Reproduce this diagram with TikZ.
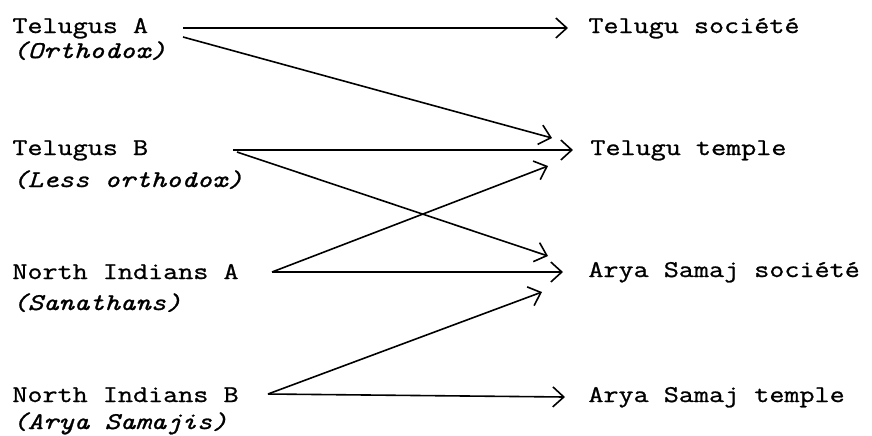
\documentclass[tikz,border=0pt]{standalone}
\usepackage{fontspec}
\setmainfont{Latin Modern Mono}[FakeStretch=1.22,FakeBold=1]
\usetikzlibrary{arrows.meta}
\begin{document}
\begin{tikzpicture}[x=0.5pt,y=-0.5pt,
  lbl/.style={anchor=base west,inner sep=0pt,font=\fontsize{12}{14}\selectfont},
  sub/.style={lbl,font=\fontsize{12}{14}\selectfont\itshape},
  link/.style={line width=0.8pt,-{Straight Barb[length=5.5pt,width=10pt,line width=0.8pt]}}]
\useasboundingbox (0,0) rectangle (872,435);
% left groups
\node[lbl] (tA) at (12,33) {Telugus A};
\node[sub] (tAs) at (12,58) {(Orthodox)};
\node[lbl] (tB) at (12,155) {Telugus B};
\node[sub] (tBs) at (12,187) {(Less orthodox)};
\node[lbl] (nA) at (12,279) {North Indians A};
\node[sub] (nAs) at (12,310) {(Sanathans)};
\node[lbl] (nB) at (12,402) {North Indians B};
\node[sub] (nBs) at (12,429) {(Arya Samajis)};
% right institutions
\node[lbl] (ts) at (588,33) {Telugu société};
\node[lbl] (tt) at (590,155) {Telugu temple};
\node[lbl] (as) at (588,277) {Arya Samaj société};
\node[lbl] (at) at (588,402) {Arya Samaj temple};
% connector ends
\coordinate (tA1) at (183,28);
\coordinate (tA2) at (183,37);
\coordinate (tB1) at (233,150);
\coordinate (tB2) at (237,152);
\coordinate (nA1) at (272,272);
\coordinate (nB1) at (268,394);
\coordinate (ts1) at (568,28);
\coordinate (tt1) at (552,138);
\coordinate (tt2) at (573,150);
\coordinate (tt3) at (548,166);
\coordinate (as1) at (548,256);
\coordinate (as2) at (563,272);
\coordinate (as3) at (542,292);
\coordinate (at1) at (565,397);
% connectors
\draw[link] (tA1) -- (ts1);
\draw[link] (tA2) -- (tt1);
\draw[link] (tB1) -- (tt2);
\draw[link] (tB2) -- (as1);
\draw[link] (nA1) -- (tt3);
\draw[link] (nA1) -- (as2);
\draw[link] (nB1) -- (as3);
\draw[link] (nB1) -- (at1);
\end{tikzpicture}
\end{document}
